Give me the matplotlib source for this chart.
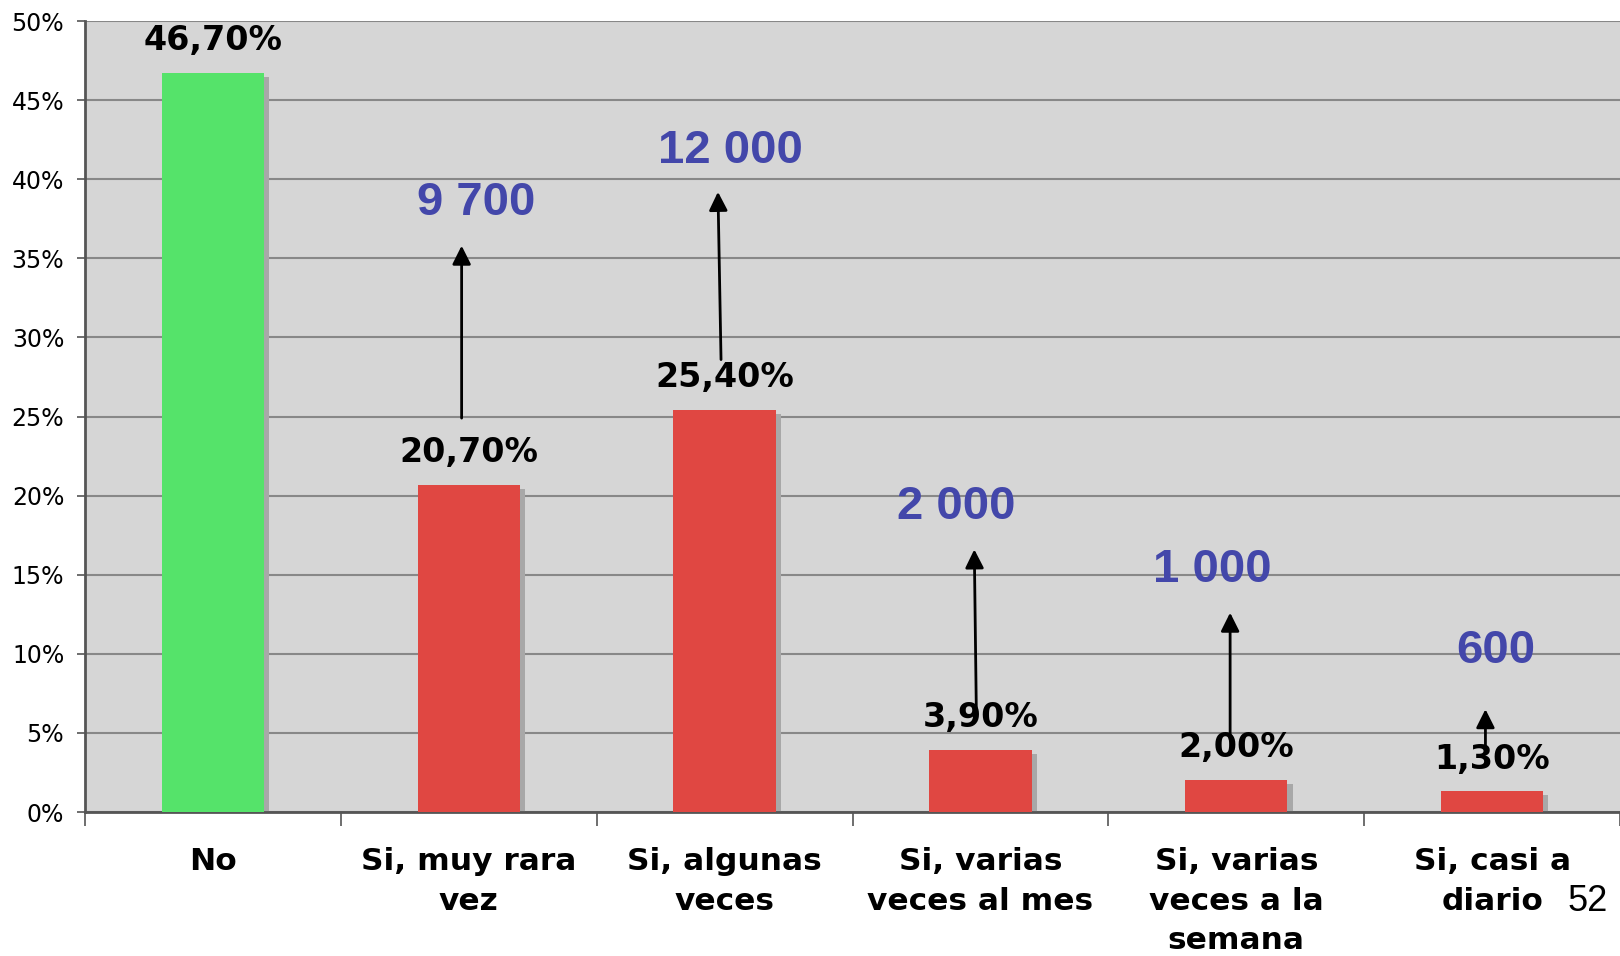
import numpy as np
import matplotlib.pyplot as plt

## the data
categories = ['No', 'Si, muy rara\nvez', 'Si, algunas\nveces', 'Si, varias\nveces al mes',
              'Si, varias\nveces a la\nsemana', 'Si, casi a\ndiario']
percent = [46.7, 20.7, 25.4, 3.9, 2.0, 1.3]
value_labels = ['46,70%', '20,70%', '25,40%', '3,90%', '2,00%', '1,30%']
counts = ['9 700', '12 000', '2 000', '1 000', '600']   # for the "Si" bars
count_pos = [(1.028, 38.5), (2.022, 41.8), (2.907, 19.3), (3.907, 15.3), (5.014, 10.2)]
arrows = [((0.972, 24.9), (0.972, 35.8)),
          ((1.986, 28.6), (1.974, 39.2)),
          ((2.984, 6.3), (2.976, 16.6)),
          ((3.976, 4.6), (3.976, 12.6)),
          ((4.974, 4.0), (4.974, 6.5))]

colors = ['#55E36A'] + ['#E04742'] * 5

fig = plt.figure(figsize=(16.2, 9.56), dpi=100)
ax = fig.add_axes([0.0525, 0.1506, 0.9475, 0.8274])
ax.set_facecolor('#D6D6D6')

ind = np.arange(len(percent))
width = 0.4

# shadows then bars
ax.bar(ind + 0.02, np.array(percent) - 0.25, width, color='#A8A8A8', zorder=2)
ax.bar(ind, percent, width, color=colors, zorder=3)

for i, (v, lab) in enumerate(zip(percent, value_labels)):
    ax.text(i, v + 2.05, lab, ha='center', va='center', fontsize=24,
            fontweight='bold', color='black', zorder=5)

for (start, end) in arrows:
    ax.annotate('', xy=end, xytext=start,
                arrowprops=dict(arrowstyle='-|>', color='black', lw=2,
                                mutation_scale=28, shrinkA=0, shrinkB=0),
                zorder=4)

for txt, (x, y) in zip(counts, count_pos):
    ax.text(x, y, txt, ha='center', va='center', fontsize=34, fontweight='bold',
            family='Liberation Sans', color='#4347AA', zorder=5)

# axes
ax.set_xlim(-0.5, 5.5)
ax.set_ylim(0, 50)
ax.set_yticks(np.arange(0, 51, 5))
ax.set_yticklabels(['%d%%' % t for t in range(0, 51, 5)])
ax.yaxis.grid(True, color='#888888', lw=1.5, zorder=1)
ax.set_axisbelow(True)
ax.tick_params(axis='y', length=6, width=1.2, color='#555555', pad=9, labelsize=17)

ax.set_xticks(ind)
ax.set_xticklabels(categories, fontsize=22.5, fontweight='bold', linespacing=1.47, va='top')
ax.set_xticks(np.arange(-0.5, 5.6, 1), minor=True)
ax.tick_params(axis='x', which='major', length=0, pad=25)
ax.tick_params(axis='x', which='minor', length=10, width=1.2, color='#555555')

for s in ['top', 'right']:
    ax.spines[s].set_visible(False)
for s in ['left', 'bottom']:
    ax.spines[s].set_color('#555555')
    ax.spines[s].set_linewidth(2)

fig.text(0.98, 0.0575, '52', ha='center', va='center', fontsize=26,
         family='Liberation Sans', color='black')

fig.savefig('out.png', dpi=100)
